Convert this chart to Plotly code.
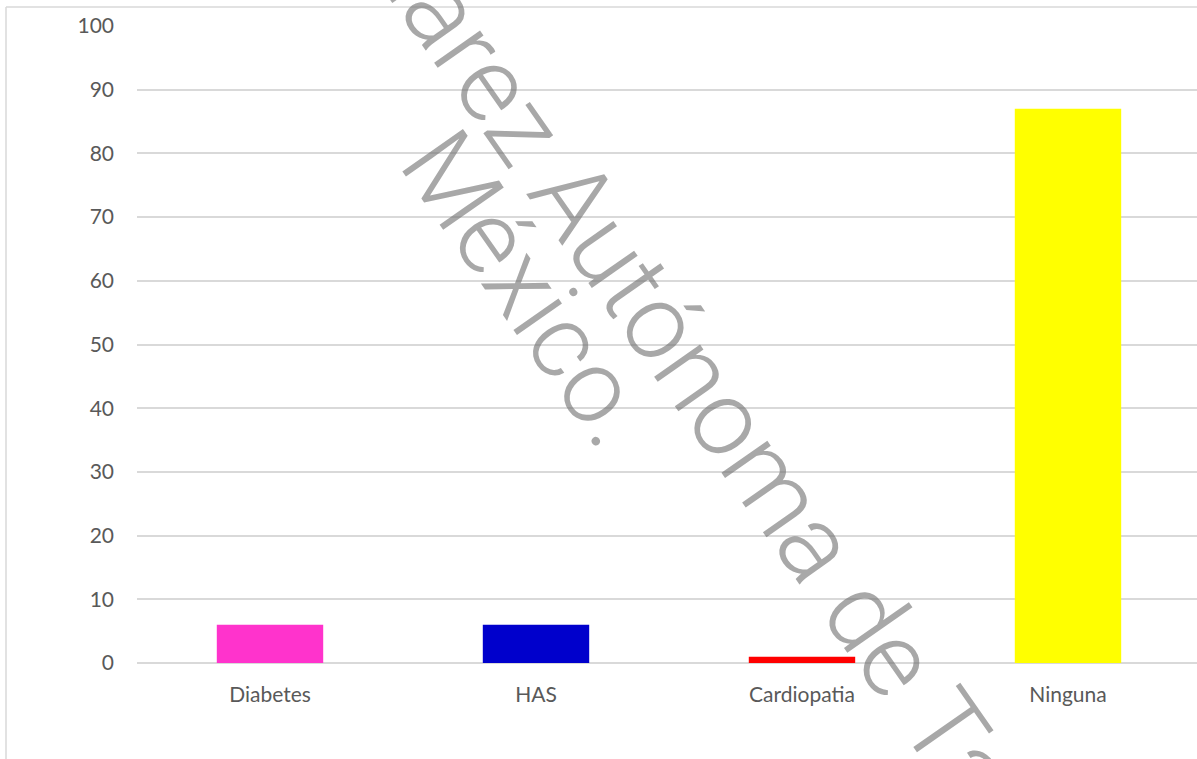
import plotly.graph_objects as go

categories = ["Diabetes", "HAS", "Cardiopatia", "Ninguna"]
values = [6, 6, 1, 87]
bar_colors = ["#FF33CC", "#0000CC", "#FF0000", "#FFFF00"]
y_ticks = [0, 10, 20, 30, 40, 50, 60, 70, 80, 90, 100]

W, H = 1197, 759
L, R, T, B = 137, 0, 26, 96

fig = go.Figure()
fig.add_trace(go.Bar(
    x=list(range(len(categories))), y=values,
    marker=dict(color=bar_colors, line=dict(width=0)),
    width=0.4, showlegend=False, hoverinfo="skip",
))

fig.update_layout(
    width=W, height=H,
    margin=dict(l=L, r=R, t=T, b=B, pad=0),
    paper_bgcolor="white", plot_bgcolor="white",
    font=dict(family="Lato", color="#595959", size=20),
    xaxis=dict(
        range=[-0.5, 3.485], tickmode="array",
        tickvals=list(range(len(categories))), ticktext=categories,
        showgrid=False, zeroline=False, showline=False, ticks="",
        tickfont=dict(family="Lato", size=21, color="#595959"), ticklabelstandoff=17,
    ),
    yaxis=dict(
        range=[0, 100], tickmode="array", tickvals=y_ticks,
        showgrid=True, gridcolor="#d9d9d9", gridwidth=1.5,
        zeroline=True, zerolinecolor="#d9d9d9", zerolinewidth=1.5,
        showline=False, ticks="", tickfont=dict(family="Lato", size=21, color="#595959"),
        ticklabelstandoff=22,
    ),
)

# chart frame (left and top edges visible)
px = lambda x: (x - L) / (W - L - R)
py = lambda y: (H - B - y) / (H - T - B)
fig.add_shape(type="line", xref="paper", yref="paper",
              x0=px(6), x1=px(6), y0=py(7), y1=py(770),
              line=dict(color="#d9d9d9", width=1.5))
fig.add_shape(type="line", xref="paper", yref="paper",
              x0=px(6), x1=px(1210), y0=py(7), y1=py(7),
              line=dict(color="#d9d9d9", width=1.5))

wm_color = "rgba(110,110,110,0.6)"
fig.add_annotation(text="Juárez Autónoma de Tabasco", xref="paper", yref="paper",
                   x=px(757), y=py(461), showarrow=False, textangle=55,
                   font=dict(family="Roboto", size=106, color=wm_color, weight=300),
                   xanchor="center", yanchor="middle")
fig.add_annotation(text="México.", xref="paper", yref="paper",
                   x=px(528), y=py(288), showarrow=False, textangle=55,
                   font=dict(family="Roboto", size=104, color=wm_color, weight=300),
                   xanchor="center", yanchor="middle")

fig.write_html("out.html")
